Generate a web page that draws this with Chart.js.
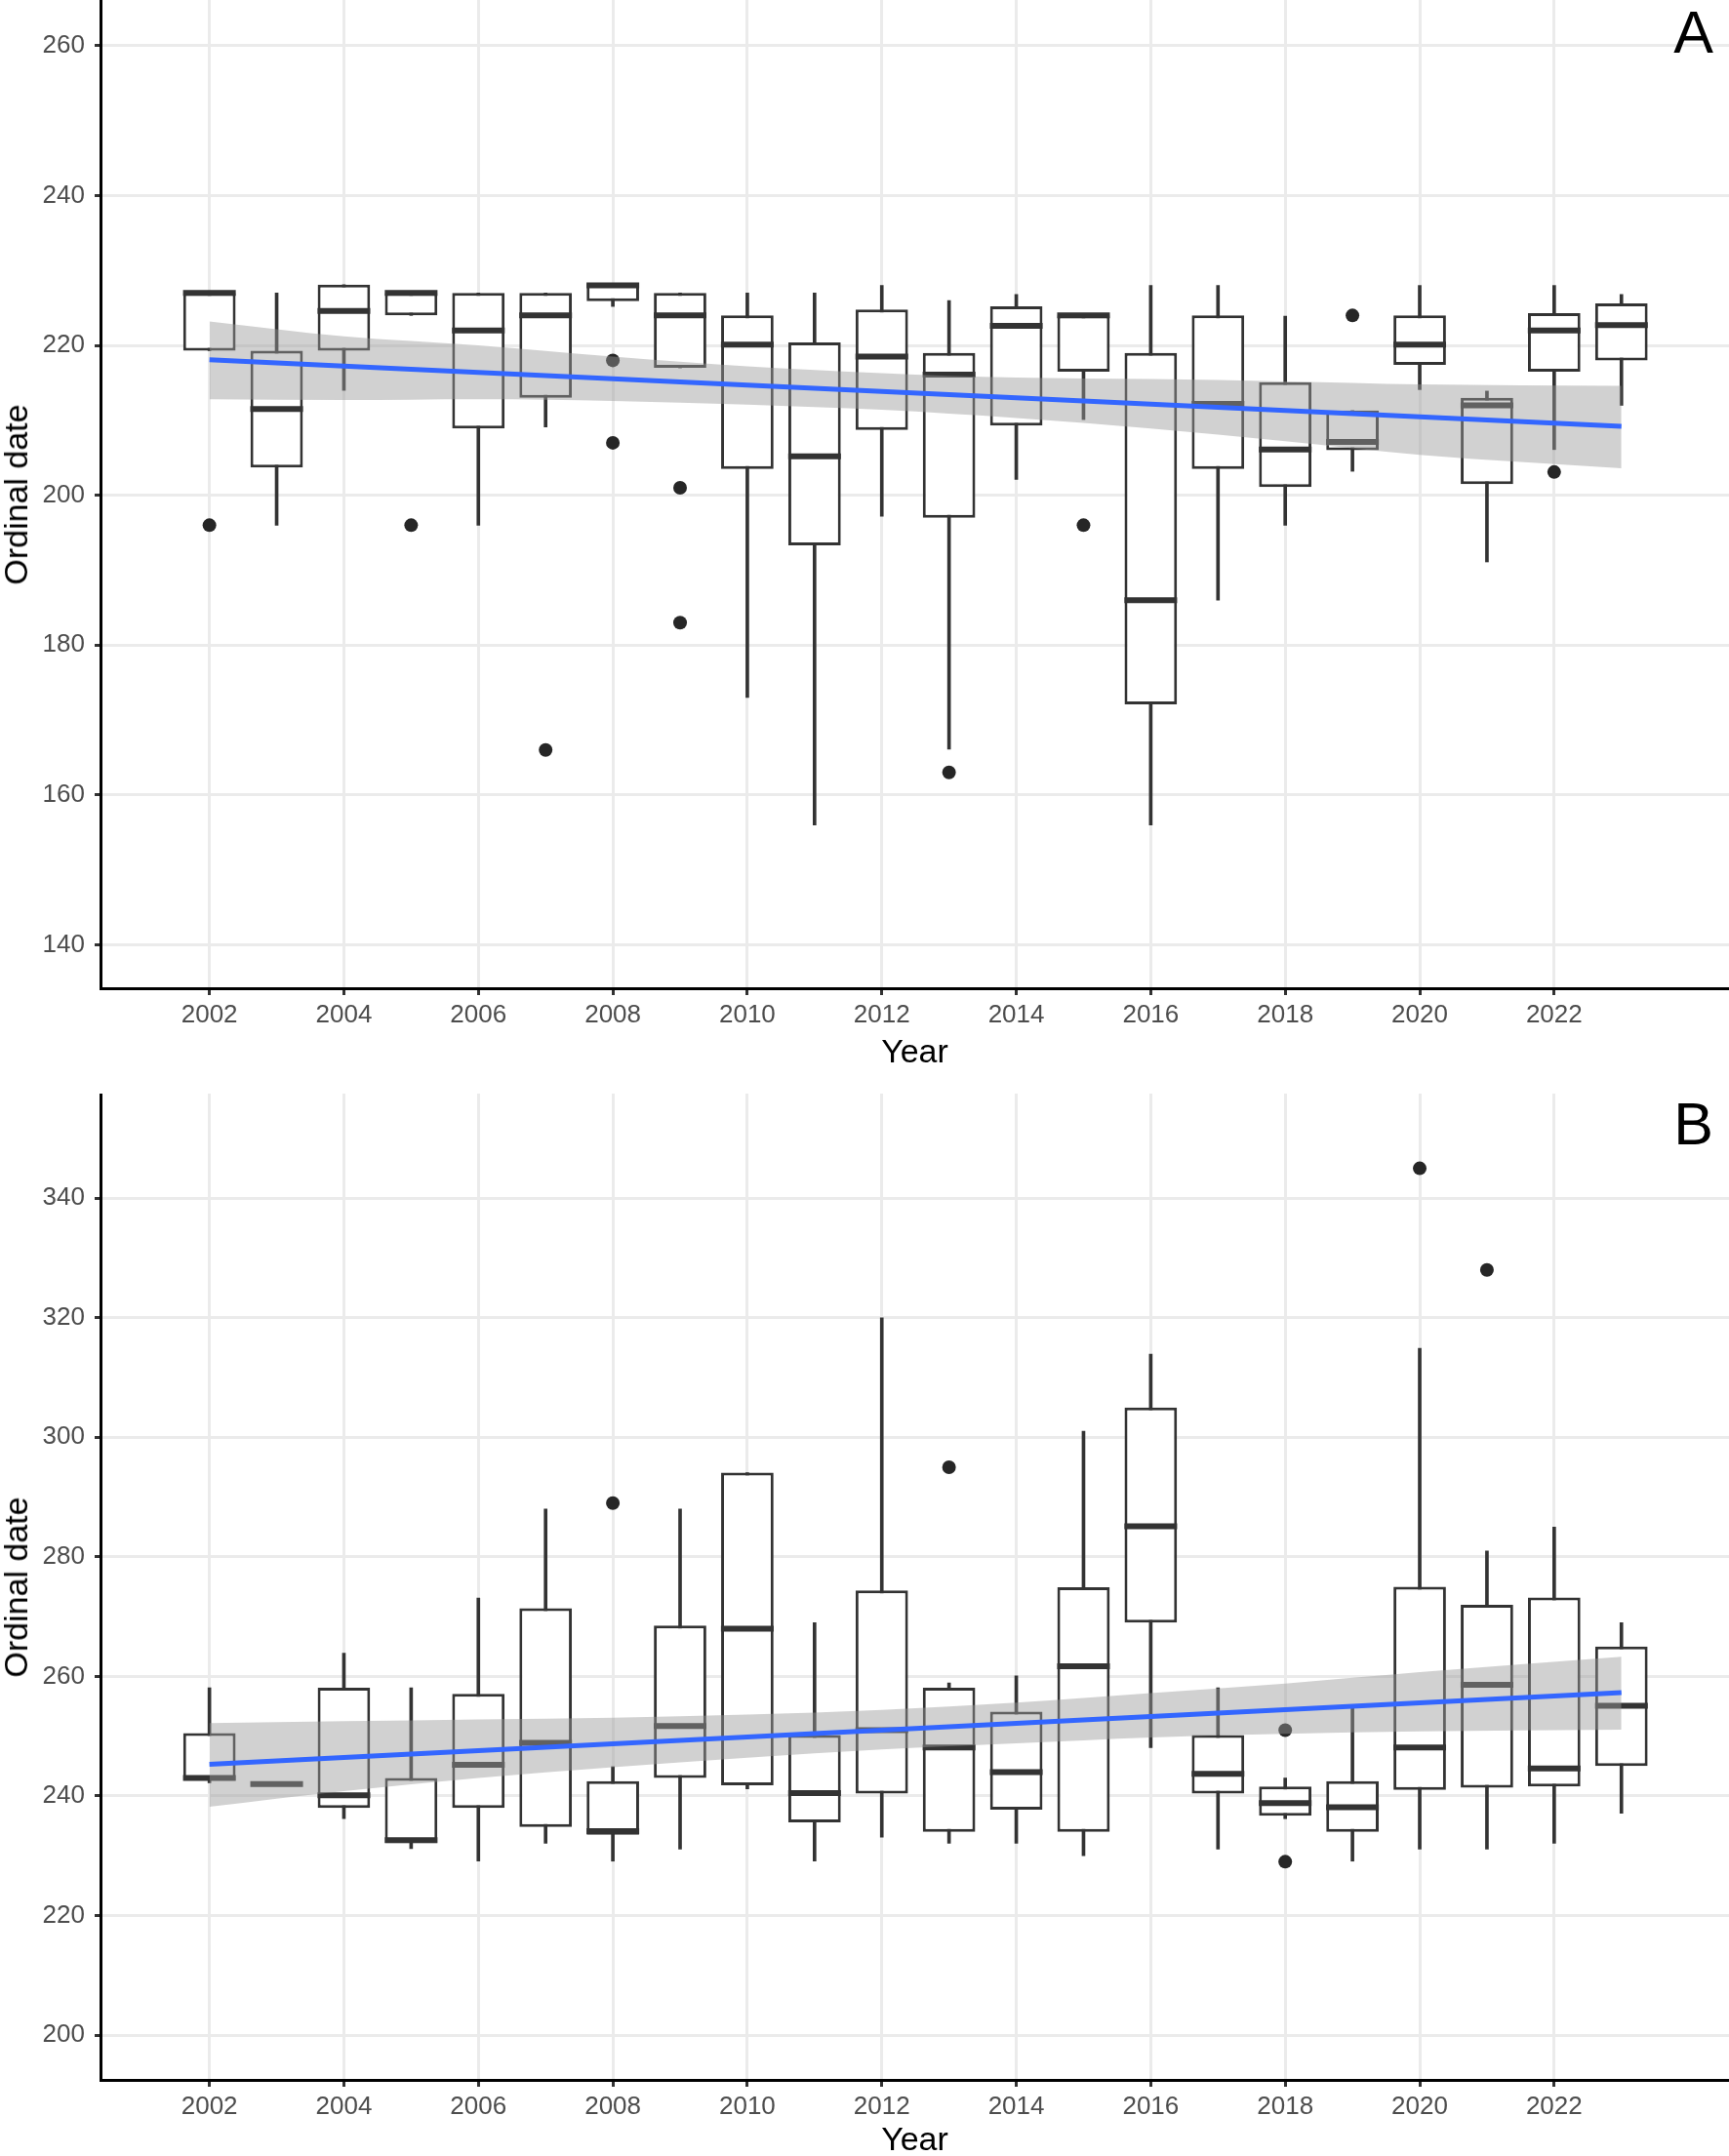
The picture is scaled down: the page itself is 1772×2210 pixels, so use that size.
<!DOCTYPE html>
<html>
<head>
<meta charset="utf-8">
<script src="https://cdn.jsdelivr.net/npm/chart.js@4.4.1/dist/chart.umd.min.js"></script>
<style>
html,body{margin:0;padding:0;background:#fff;}
body{width:1772px;height:2210px;position:relative;overflow:hidden;font-family:'Liberation Sans',Arial,sans-serif;}
.panel{position:absolute;left:0;width:1772px;}
.ylab{position:absolute;font-size:34px;line-height:34px;color:#000;white-space:nowrap;transform:translate(-50%,-50%) rotate(-90deg);}
.xlab{position:absolute;font-size:34px;line-height:34px;color:#000;white-space:nowrap;transform:translateX(-50%);}
.tag{position:absolute;right:16px;font-size:61px;line-height:61px;color:#000;}
</style>
</head>
<body>
<div class="panel" style="top:0;height:1100px;"><canvas id="ca"></canvas></div>
<div class="panel" style="top:1121px;height:1089px;"><canvas id="cb"></canvas></div>
<div class="ylab" style="left:15.8px;top:506.5px;">Ordinal date</div>
<div class="ylab" style="left:15.8px;top:1626.5px;">Ordinal date</div>
<div class="xlab" style="left:937.5px;top:1060px;">Year</div>
<div class="xlab" style="left:937.5px;top:2175px;">Year</div>
<div class="tag" style="top:3px;">A</div>
<div class="tag" style="top:1122px;">B</div>
<script>
// ---------- data ----------
const years = [2002,2003,2004,2005,2006,2007,2008,2009,2010,2011,2012,2013,2014,2015,2016,2017,2018,2019,2020,2021,2022,2023];
const xTicks = [2002,2004,2006,2008,2010,2012,2014,2016,2018,2020,2022];

// Panel A
const aMin = [219.3,196,214,224,196,209.1,225.2,217,173,156,197.2,166.1,202.1,210.1,156,186,196,203.2,214.1,191.1,206.1,212];
const aQ1  = [219.3,203.7,219.3,224,208.9,213,225.9,217,203.5,193.3,208.7,197,209.3,216.5,172.1,203.5,201.1,206,217.4,201.5,216.5,218];
const aMed = [227,211.5,224.6,227,222,224,228,224,220.1,205.2,218.5,216.1,222.6,224,186,212.2,206.1,207.1,220.1,212,222,222.7];
const aQ3  = [227,219.3,228.1,227,227,227,228.2,227,224,220.4,224.8,219,225.2,224,219,224,215.1,211.3,224,213,224.3,225.6];
const aMax = [227,227,228.1,227,227,227,228.2,227,227,227,228,226,226.8,224,228,228,223.9,211.3,228,213.9,228,226.8];
const aOutYears = [2002,2005,2007,2008,2008,2009,2009,2013,2015,2019,2022];
const aOutVals  = [196,196,166,218,207,201,183,163,196,224,203.1];
const aFitYears = [2002,2023];
const aFit = [218.1,209.2];
const aBandYears = [2002,2004,2006,2008,2010,2012,2014,2016,2018,2020,2023];
const aBandLow  = [212.8,212.7,212.8,212.6,212.1,211.4,210.3,208.9,207.2,205.4,203.6];
const aBandHigh = [223.2,221.2,220.0,218.5,217.2,216.3,215.7,215.5,215.2,214.8,214.6];
const aYTicks = [140,160,180,200,220,240,260];

// Panel B
const bMin = [242.2,242,236.2,231.2,229.1,232.1,229.1,231.1,241.2,229.1,233.1,232.1,232.1,230,248.1,231.1,236.2,229.1,231.1,231.1,232.1,237.1];
const bQ1  = [242.6,242,238,232.1,238,234.8,233.5,243,241.8,235.6,240.4,234,237.7,234,269,240.4,236.7,234,241,241.4,241.6,245];
const bMed = [243,242,240.1,232.6,245.2,248.9,234.1,251.7,268,240.5,251,248.1,244,261.7,285.1,243.7,238.8,238.1,248.1,258.6,244.6,255.1];
const bQ3  = [250.5,242,258.1,243,257.1,271.4,242.5,268.5,294.1,250.2,274.4,258.1,254.1,274.9,305,250.2,241.6,242.5,275,272,273.2,265];
const bMax = [258.1,242,263.9,258.1,273.1,288,244.9,288,294.1,269,320,258.9,260.1,301,313.9,258.1,243,254.9,314.9,281,285,269];
const bOutYears = [2008,2013,2018,2018,2020,2021];
const bOutVals  = [289,295,251,229,345,328];
const bFitYears = [2002,2023];
const bFit = [245.3,257.3];
const bBandYears = [2002,2004,2006,2008,2010,2012,2014,2016,2018,2020,2023];
const bBandLow  = [238.2,240.8,243.0,244.8,246.4,247.8,248.8,249.8,250.4,250.8,251.1];
const bBandHigh = [252.2,252.5,252.8,253.1,253.6,254.4,255.6,257.2,258.8,260.7,263.3];
const bYTicks = [200,220,240,260,280,300,320,340];

// ---------- styling / layout ----------
const FONT = "'Liberation Sans', Arial, sans-serif";
const INK = '#333333';

function pts(xs, ys){ return xs.map((x,i)=>({x:x, y:ys[i]})); }

function makeChart(id, d, cfg){
  const datasets = [
    { type:'bar', data: years.map((x,i)=>({x:x, y:[d.min[i], d.max[i]]})),
      backgroundColor: INK, borderWidth:0, barThickness:3, grouped:false, order:10 },
    { type:'bar', data: years.map((x,i)=>({x:x, y:[d.q1[i], d.q3[i]]})),
      backgroundColor:'#ffffff', borderColor: INK, borderWidth:3, borderSkipped:false,
      grouped:false, categoryPercentage:1, barPercentage:0.78, order:9 },
    { type:'line', showLine:false, data: pts(years, d.med), pointStyle:'line',
      pointRadius:27, pointHoverRadius:27, pointBorderWidth:6, pointBorderColor: INK, order:8 },
    { type:'line', showLine:false, data: pts(d.outYears, d.outVals), pointStyle:'circle',
      pointRadius:7, pointHoverRadius:7, pointBackgroundColor:'#262626', pointBorderWidth:0, order:7 },
    { type:'line', data: pts(d.bandYears, d.bandLow), borderWidth:0, borderColor:'rgba(0,0,0,0)',
      pointRadius:0, fill:false, cubicInterpolationMode:'monotone', order:6 },
    { type:'line', data: pts(d.bandYears, d.bandHigh), borderWidth:0, borderColor:'rgba(0,0,0,0)',
      pointRadius:0, fill:4, backgroundColor:'rgba(153,153,153,0.45)', cubicInterpolationMode:'monotone', order:5 },
    { type:'line', data: pts(d.fitYears, d.fit), borderColor:'#3366FF', borderWidth:5,
      pointRadius:0, fill:false, order:1 }
  ];
  return new Chart(document.getElementById(id), {
    type:'bar',
    data:{ datasets: datasets },
    options:{
      responsive:true, maintainAspectRatio:false, animation:false, events:[],
      layout:{ padding:0, autoPadding:false },
      plugins:{ legend:{display:false}, tooltip:{enabled:false} },
      scales:{
        x:{
          type:'linear', min:2000.38, max:2024.6, offset:false, bounds:'data',
          grid:{ color:'#ebebeb', lineWidth:3, offset:false, drawTicks:true, tickLength:7, tickColor:INK, tickWidth:3 },
          border:{ display:true, color:'#000', width:3 },
          ticks:{ font:{family:FONT, size:26}, color:'#4d4d4d', padding:5, maxRotation:0, autoSkip:false,
                  callback:(v)=>String(v) },
          afterBuildTicks:(ax)=>{ ax.ticks = xTicks.map(v=>({value:v})); },
          afterFit:(ax)=>{ ax.height = cfg.xAxisH; ax.paddingLeft=0; ax.paddingRight=0; ax.paddingTop=0; ax.paddingBottom=0; }
        },
        y:{
          type:'linear', min:cfg.yMin, max:cfg.yMax, beginAtZero:false, bounds:'data',
          grid:{ color:'#ebebeb', lineWidth:3, drawTicks:true, tickLength:6, tickColor:INK, tickWidth:3 },
          border:{ display:true, color:'#000', width:3 },
          ticks:{ font:{family:FONT, size:26}, color:'#4d4d4d', padding:10, autoSkip:false,
                  callback:(v)=>String(v) },
          afterBuildTicks:(ax)=>{ ax.ticks = cfg.yTicks.map(v=>({value:v})); },
          afterFit:(ax)=>{ ax.width = 103; ax.paddingLeft=0; ax.paddingRight=0; ax.paddingTop=0; ax.paddingBottom=0; }
        }
      }
    }
  });
}

makeChart('ca', {min:aMin,q1:aQ1,med:aMed,q3:aQ3,max:aMax,outYears:aOutYears,outVals:aOutVals,
  bandYears:aBandYears,bandLow:aBandLow,bandHigh:aBandHigh,fitYears:aFitYears,fit:aFit},
  {yMin:134.2, yMax:266.1, yTicks:aYTicks, xAxisH:87});
makeChart('cb', {min:bMin,q1:bQ1,med:bMed,q3:bQ3,max:bMax,outYears:bOutYears,outVals:bOutVals,
  bandYears:bBandYears,bandLow:bBandLow,bandHigh:bBandHigh,fitYears:bFitYears,fit:bFit},
  {yMin:192.5, yMax:357.5, yTicks:bYTicks, xAxisH:78});
</script>
</body>
</html>
